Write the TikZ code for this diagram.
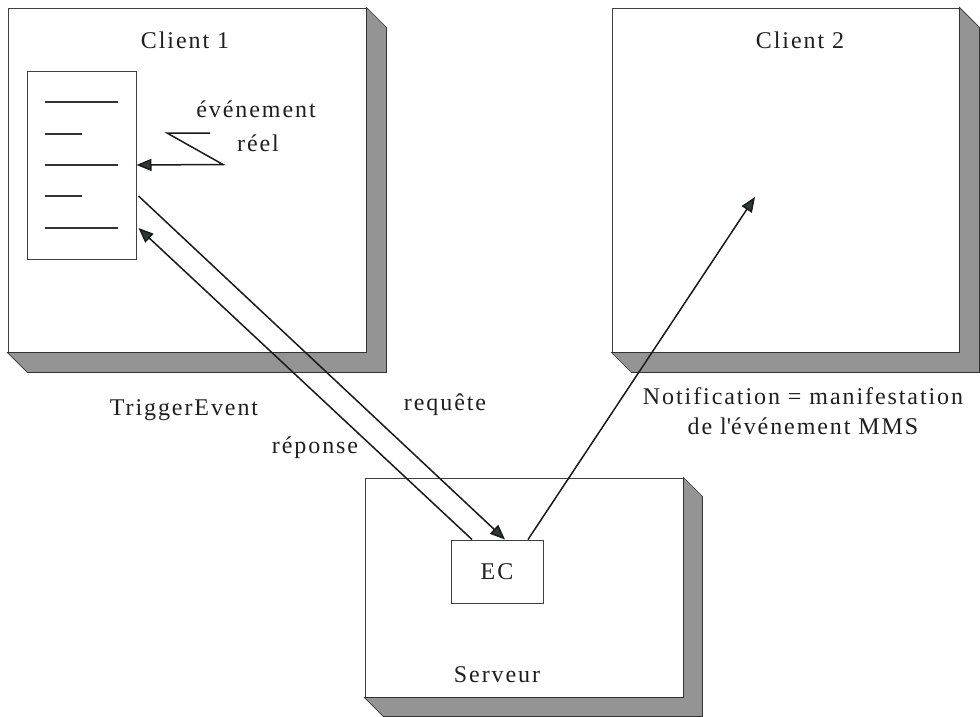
\documentclass[tikz,border=0pt]{standalone}
\usepackage{fontspec}
\setmainfont{Liberation Serif}[LetterSpace=8]
\usetikzlibrary{arrows.meta}
\definecolor{tipcol}{HTML}{2B3A3A}
\definecolor{linecol}{HTML}{1A1A1A}
\tikzset{
  box/.style={draw=black!75, fill=white, line width=1pt, inner sep=0pt},
  shade3d/.style={fill=black!42, draw=black!80, line width=0.7pt},
  conn/.style={draw=linecol, line width=1.5pt},
  arr/.style={conn, -{Triangle[length=15pt,width=12pt,fill=tipcol]}},
  lbl/.style={font=\fontsize{24}{30}\selectfont, text=black!88, inner sep=0pt, align=center},
  bar/.style={draw=black!80, line width=1.5pt}
}
\newcommand{\depthbox}[2]{%
  \path[shade3d] (#1.north east) -- ++(#2,#2) -- ([shift={(#2,#2)}]#1.south east)
    -- ([shift={(#2,#2)}]#1.south west) -- (#1.south west) -- (#1.south east) -- cycle;}
\begin{document}
\begin{tikzpicture}[x=1pt,y=-1pt]
\useasboundingbox[fill=white] (0,0) rectangle (980,716);
% main boxes
\node[box, minimum width=358pt, minimum height=344pt] (c1) at (187,180) {};
\depthbox{c1}{20}
\node[box, minimum width=347pt, minimum height=344pt] (c2) at (785.5,180) {};
\depthbox{c2}{20}
\node[box, minimum width=318pt, minimum height=219pt] (srv) at (524,587.5) {};
\depthbox{srv}{19}
% inner boxes
\node[box, minimum width=109pt, minimum height=188pt] (list) at (81.5,165) {};
\node[box, minimum width=92pt, minimum height=63pt] (ec) at (497,571.5) {};
% list lines
\draw[bar] (45,102) -- (118,102);
\draw[bar] (45,134) -- (82,134);
\draw[bar] (45,165) -- (118,165);
\draw[bar] (45,196) -- (82,196);
\draw[bar] (45,228) -- (118,228);
% labels
\node[lbl] (t1) at (185,40) {Client 1};
\node[lbl] (t2) at (800,40) {Client 2};
\node[lbl] (tev) at (256,109) {événement};
\node[lbl] (tre) at (258,143) {réel};
\node[lbl] (ttr) at (184,410) {TriggerEvent};
\node[lbl] (treq) at (445,405) {requête};
\node[lbl] (trep) at (315,448) {réponse};
\node[lbl] (tnot) at (803,411) {Notification = manifestation\\de l\textquotesingle événement MMS};
\node[lbl] (tec) at (497,572) {EC};
\node[lbl] (tsrv) at (497,675) {Serveur};
% event lightning
\coordinate (z1) at (210,133);
\coordinate (z2) at (167,133);
\coordinate (z3) at (223,164.5);
\draw[arr] (z1) -- (z2) -- (z3) -- (list.east);
% request / response
\draw[arr] ([shift={(2pt,-31pt)}]list.east) -- ([xshift=8pt]ec.north);
\draw[arr] ([xshift=-25pt]ec.north) -- ([shift={(2pt,-63pt)}]list.east);
% notification
\coordinate (ntip) at (755,197);
\draw[arr] ([xshift=31pt]ec.north) -- (ntip);
\end{tikzpicture}
\end{document}
